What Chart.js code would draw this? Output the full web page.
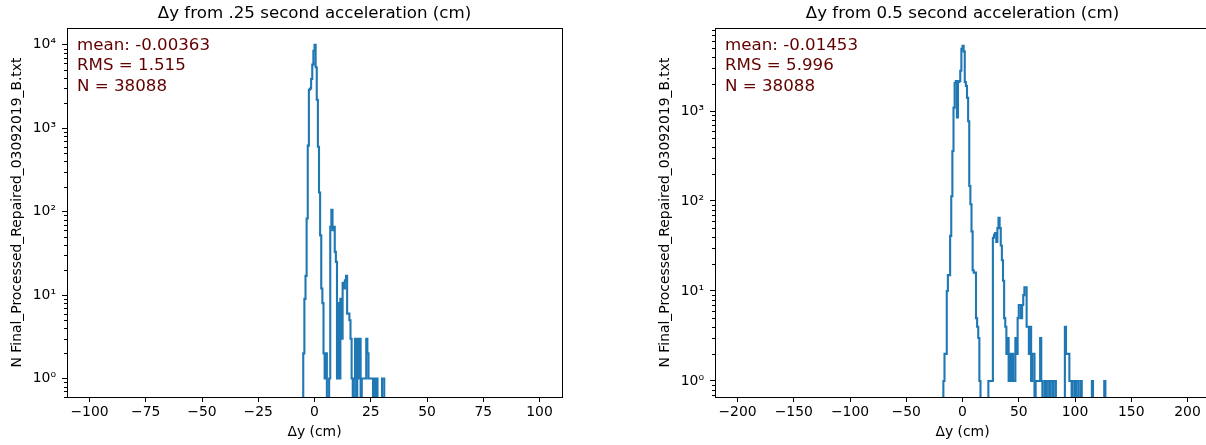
<!DOCTYPE html>
<html lang="en">
<head>
<meta charset="UTF-8">
<title>Δy acceleration histograms</title>
<script src="https://cdn.jsdelivr.net/npm/chart.js"></script>
<style>
  html, body { margin: 0; padding: 0; background: #fff; overflow: hidden; }
  body { width: 1206px; height: 445px; position: relative; }
  canvas { position: absolute; top: 0; }
  #left { left: 0; }
  #right { left: 648px; }
</style>
</head>
<body>
<canvas id="left" width="600" height="445"></canvas>
<canvas id="right" width="600" height="445"></canvas>
<script>
const yLabel = 'N Final_Processed_Repaired_03092019_B.txt';
const xLabel = 'Δy (cm)';

// .25 s histogram, 0.5 cm bins starting at -5 cm
const leftTitle = 'Δy from .25 second acceleration (cm)';
const leftFirstEdge = -5;
const leftBinWidth = 0.5;
const leftCounts = [
  2, 9, 17, 83, 620, 2900, 3000, 3900, 5800, 8500,
  10000, 5400, 2200, 600, 170, 52, 12, 8, 2, 1,
  2, 0, 0, 1, 66, 105, 60, 66, 33, 25,
  1, 8, 1, 9, 3, 14, 12, 15, 17, 6,
  6, 5, 3, 1, 0, 1, 3, 0, 3, 1,
  3, 0, 1, 1, 1, 1, 3, 2, 1, 1,
  1, 1, 0, 1, 0, 1, 0, 0, 0, 0,
  1, 1
];
const leftStats = ['mean: -0.00363', 'RMS = 1.515', 'N = 38088'];
const leftXTicks = [-100, -75, -50, -25, 0, 25, 50, 75, 100];
const leftYTicks = [1, 10, 100, 1000, 10000];
const leftXRange = [-110, 110];
const leftYRange = [0.645, 15930];

// 0.5 s histogram, 1 cm bins starting at -17 cm
const rightTitle = 'Δy from 0.5 second acceleration (cm)';
const rightFirstEdge = -17;
const rightBinWidth = 1;
const rightCounts = [
  1, 2, 2, 10, 15, 15, 41, 113, 360, 1090,
  2050, 2150, 850, 2100, 2150, 2800, 4900, 5300, 4600, 2100,
  1900, 1400, 770, 147, 92, 46, 17, 16, 16, 5,
  4, 3, 1, 0, 0, 0, 0, 0, 0, 0,
  1, 1, 1, 1, 39, 42, 44, 35, 50, 65,
  50, 32, 22, 13, 5, 4, 2, 3, 1, 2,
  1, 2, 1, 1, 3, 2, 5, 7, 7, 5,
  7, 9, 11, 11, 4, 4, 2, 4, 1, 2,
  2, 0, 1, 1, 1, 1, 3, 1, 0, 0,
  1, 0, 1, 1, 0, 1, 1, 0, 1, 1,
  0, 0, 0, 0, 0, 0, 0, 0, 4, 2,
  2, 2, 1, 1, 0, 1, 1, 0, 1, 1,
  0, 0, 1, 0, 0, 0, 0, 0, 0, 0,
  0, 0, 1, 0, 0, 0, 0, 0, 0, 0,
  0, 0, 0, 1
];
const rightStats = ['mean: -0.01453', 'RMS = 5.996', 'N = 38088'];
const rightXTicks = [-200, -150, -100, -50, 0, 50, 100, 150, 200];
const rightYTicks = [1, 10, 100, 1000];
const rightXRange = [-220, 220];
const rightYRange = [0.664, 8360];

Chart.defaults.font.family = 'DejaVu Sans';
Chart.defaults.font.size = 13.9;
Chart.defaults.color = '#000';

const SUP = '⁰¹²³⁴⁵⁶⁷⁸⁹';
function powLabel(v) {
  const e = Math.round(Math.log10(v));
  const s = String(Math.abs(e)).split('').map(d => SUP[+d]).join('');
  return '10' + (e < 0 ? '⁻' : '') + s;
}
function numLabel(v) {
  return v < 0 ? '\u2212' + Math.abs(v) : String(v);
}

// step outline: rise at the first edge, run along each bin, drop after the last.
// empty bins sit below the log axis and get clipped, like matplotlib does
function stepPoints(firstEdge, width, counts) {
  const floor = 0.01;
  const pts = [{x: firstEdge, y: floor}];
  counts.forEach((c, i) => pts.push({x: firstEdge + i * width, y: c > 0 ? c : floor}));
  pts.push({x: firstEdge + counts.length * width, y: floor});
  return pts;
}

// frame, minor log ticks and the stats box
const decorations = {
  id: 'decorations',
  afterDatasetsDraw(chart, args, opts) {
    const {ctx, chartArea: a} = chart;
    const ys = chart.scales.y;
    ctx.save();
    ctx.strokeStyle = '#000';
    ctx.lineWidth = 1;
    ctx.beginPath();
    const lo = Math.floor(Math.log10(ys.min)), hi = Math.ceil(Math.log10(ys.max));
    for (let k = lo; k <= hi; k++) {
      for (let m = 2; m <= 9; m++) {
        const v = m * Math.pow(10, k);
        if (v < ys.min || v > ys.max) continue;
        const y = Math.round(ys.getPixelForValue(v)) + 0.5;
        ctx.moveTo(a.left - 3, y);
        ctx.lineTo(a.left, y);
      }
    }
    ctx.stroke();
    ctx.strokeRect(Math.round(a.left) + 0.5, Math.round(a.top) + 0.5,
                   Math.round(a.right - a.left), Math.round(a.bottom - a.top));
    ctx.fillStyle = '#620000';
    ctx.font = '16.67px "DejaVu Sans"';
    ctx.textBaseline = 'alphabetic';
    ctx.textAlign = 'left';
    opts.lines.forEach((t, i) => ctx.fillText(t, a.left + 10, a.top + 21.5 + i * 20.5));
    ctx.restore();
  }
};

function makeChart(id, d) {
  return new Chart(document.getElementById(id), {
    type: 'line',
    data: {
      datasets: [{
        data: stepPoints(d.firstEdge, d.binWidth, d.counts),
        stepped: true,
        borderColor: '#1f77b4',
        borderWidth: 2.1,
        borderJoinStyle: 'miter',
        pointRadius: 0,
        fill: false,
        clip: 0
      }]
    },
    options: {
      responsive: false,
      animation: false,
      events: [],
      layout: { padding: { left: 0, right: 38, top: 0, bottom: 0 } },
      plugins: {
        legend: { display: false },
        tooltip: { enabled: false },
        title: {
          display: true,
          text: d.title,
          fullSize: false,
          color: '#000',
          font: { size: 16.67, weight: 'normal', lineHeight: 1.2 },
          padding: { top: 4, bottom: 4 }
        },
        decorations: { lines: d.stats }
      },
      scales: {
        x: {
          type: 'linear',
          min: d.xRange[0],
          max: d.xRange[1],
          afterBuildTicks: s => { s.ticks = d.xTicks.map(v => ({value: v})); },
          afterFit: s => { s.height = 48; },
          ticks: { callback: numLabel, padding: 2, maxRotation: 0, autoSkip: false },
          grid: { drawOnChartArea: false, color: '#000', tickLength: 5, tickWidth: 1 },
          border: { color: '#000', width: 1 },
          title: {
            display: true,
            text: xLabel,
            font: { size: 13.9, lineHeight: 1.2 },
            padding: { top: 0, bottom: 4.2 }
          }
        },
        y: {
          type: 'logarithmic',
          min: d.yRange[0],
          max: d.yRange[1],
          afterBuildTicks: s => { s.ticks = d.yTicks.map(v => ({value: v, major: true})); },
          afterFit: s => { s.width = 67; },
          ticks: { callback: powLabel, padding: 6, autoSkip: false },
          grid: { drawOnChartArea: false, color: '#000', tickLength: 5, tickWidth: 1 },
          border: { color: '#000', width: 1 },
          title: {
            display: true,
            text: yLabel,
            font: { size: 13.9, lineHeight: 1.2 },
            padding: { top: 9.5, bottom: 0 }
          }
        }
      }
    },
    plugins: [decorations]
  });
}

makeChart('left', {
  title: leftTitle, firstEdge: leftFirstEdge, binWidth: leftBinWidth, counts: leftCounts,
  stats: leftStats, xTicks: leftXTicks, yTicks: leftYTicks, xRange: leftXRange, yRange: leftYRange
});
makeChart('right', {
  title: rightTitle, firstEdge: rightFirstEdge, binWidth: rightBinWidth, counts: rightCounts,
  stats: rightStats, xTicks: rightXTicks, yTicks: rightYTicks, xRange: rightXRange, yRange: rightYRange
});
</script>
</body>
</html>
